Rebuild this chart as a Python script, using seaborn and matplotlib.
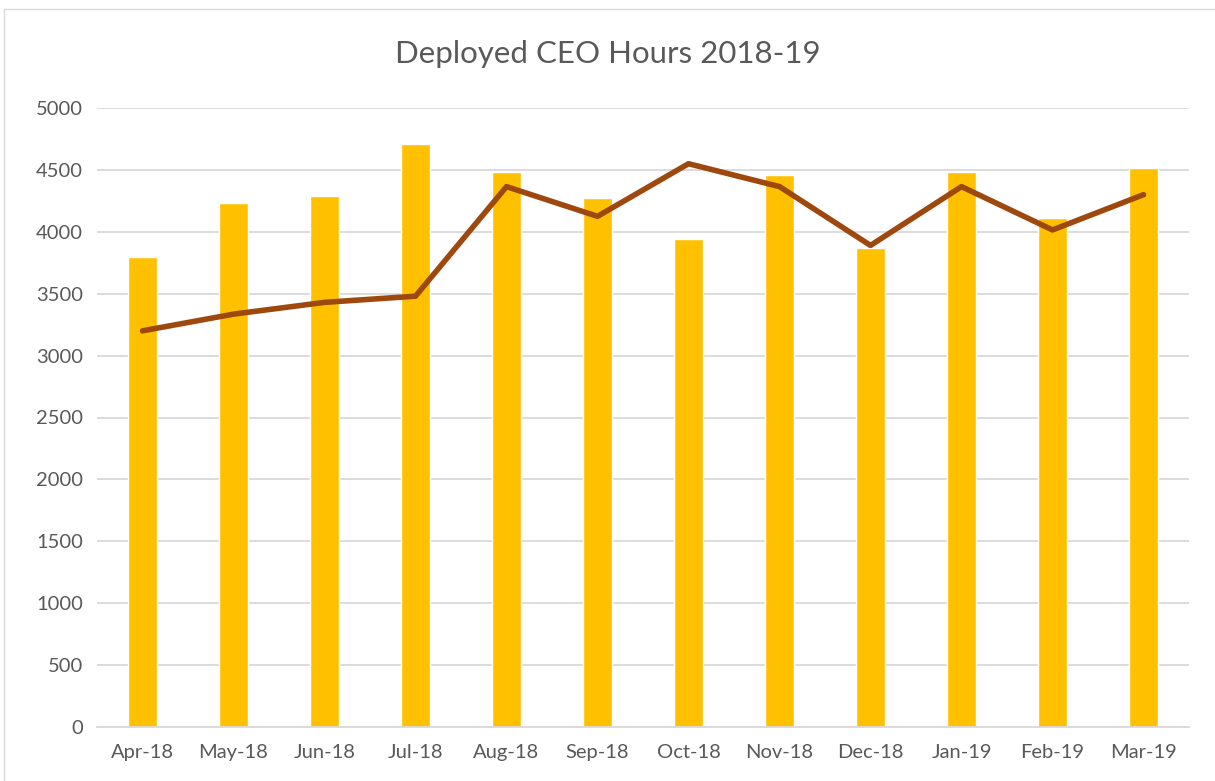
import numpy as np
import pandas as pd
import seaborn as sns
from matplotlib import pyplot as plt
from matplotlib.patches import Rectangle

months = ["Apr-18", "May-18", "Jun-18", "Jul-18", "Aug-18", "Sep-18",
          "Oct-18", "Nov-18", "Dec-18", "Jan-19", "Feb-19", "Mar-19"]
bar_hours = [3800, 4235, 4290, 4710, 4485, 4275, 3940, 4460, 3870, 4485, 4110, 4515]
line_hours = [3200, 3335, 3430, 3480, 4365, 4125, 4550, 4365, 3890, 4365, 4015, 4300]

df = pd.DataFrame({"month": months, "bars": bar_hours, "line": line_hours})

sns.set_style("white")
plt.rcParams['font.family'] = ['Lato', 'DejaVu Sans']

fig = plt.figure(figsize=(12.15, 7.81), dpi=100)
ax = fig.add_axes([97 / 1215, 1 - 727 / 781, (1189 - 97) / 1215, (727 - 108) / 781])

sns.barplot(data=df, x="month", y="bars", color="#FFC000", width=0.31,
            saturation=1, ax=ax, zorder=2)
sns.lineplot(data=df, x="month", y="line", color="#9E480E", linewidth=4,
             sort=False, ax=ax, zorder=3, solid_capstyle="round")

ax.set_ylim(0, 5000)
ax.set_xlim(-0.5, 11.5)
ax.set_yticks(np.arange(0, 5001, 500))
ax.grid(axis="y", color="#D9D9D9", linewidth=1.3, zorder=0)
ax.set_axisbelow(True)
for s in ["top", "right", "left"]:
    ax.spines[s].set_visible(False)
ax.spines["bottom"].set_color("#D9D9D9")
ax.spines["bottom"].set_linewidth(1.3)

ax.set_xticks(np.arange(-0.5, 12, 1), minor=True)
ax.tick_params(axis="x", which="minor", length=8, color="#D9D9D9", width=1.3)
ax.tick_params(axis="x", which="major", length=0, pad=12, labelsize=14.5, labelcolor="#595959")
ax.tick_params(axis="y", length=0, pad=10, labelsize=14.5, labelcolor="#595959")
ax.set_xlabel("")
ax.set_ylabel("")

fig.text(0.5, 1 - 54 / 781, "Deployed CEO Hours 2018-19", ha="center", va="center",
         fontsize=22.5, color="#595959")
fig.patches.append(Rectangle((4 / 1215, -0.01), 1.02, 1 - 9 / 781 + 0.01,
                             transform=fig.transFigure, fill=False,
                             edgecolor="#D9D9D9", linewidth=1))

fig.savefig("out.png", dpi=100)
